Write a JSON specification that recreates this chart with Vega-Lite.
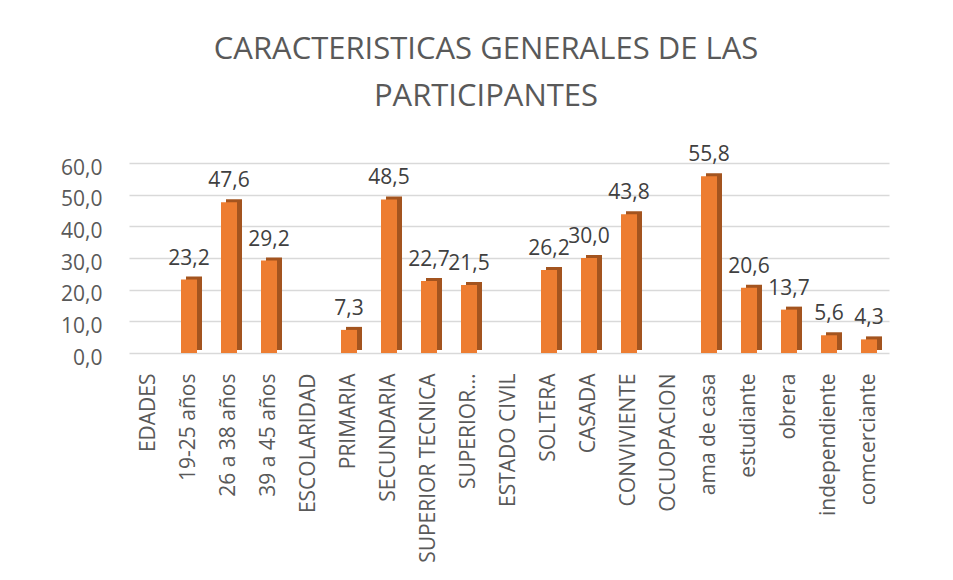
{
  "$schema": "https://vega.github.io/schema/vega-lite/v6.json",
  "width": 760,
  "height": 190,
  "autosize": {"type": "none"},
  "padding": {"left": 129, "top": 163, "right": 64, "bottom": 227},
  "background": "white",
  "config": {
    "view": {"stroke": null},
    "font": "Open Sans",
    "locale": {"number": {"decimal": ",", "thousands": ".", "grouping": [3], "currency": ["", ""]}}
  },
  "title": {
    "text": ["CARACTERISTICAS GENERALES DE LAS", "PARTICIPANTES"],
    "fontSize": 31,
    "fontWeight": "normal",
    "color": "#595959",
    "lineHeight": 47,
    "anchor": "middle",
    "dx": -23,
    "offset": 31
  },
  "data": {
    "values": [
      {"cat": "EDADES", "pct": null},
      {"cat": "19-25 años", "pct": 23.2},
      {"cat": "26 a 38 años", "pct": 47.6},
      {"cat": "39 a 45 años", "pct": 29.2},
      {"cat": "ESCOLARIDAD", "pct": null},
      {"cat": "PRIMARIA", "pct": 7.3},
      {"cat": "SECUNDARIA", "pct": 48.5},
      {"cat": "SUPERIOR TECNICA", "pct": 22.7},
      {"cat": "SUPERIOR…", "pct": 21.5},
      {"cat": "ESTADO CIVIL", "pct": null},
      {"cat": "SOLTERA", "pct": 26.2},
      {"cat": "CASADA", "pct": 30.0},
      {"cat": "CONVIVIENTE", "pct": 43.8},
      {"cat": "OCUOPACION", "pct": null},
      {"cat": "ama de casa", "pct": 55.8},
      {"cat": "estudiante", "pct": 20.6},
      {"cat": "obrera", "pct": 13.7},
      {"cat": "independiente", "pct": 5.6},
      {"cat": "comcerciante", "pct": 4.3}
    ]
  },
  "encoding": {
    "x": {
      "field": "cat",
      "type": "nominal",
      "sort": null,
      "scale": {
        "domain": ["EDADES", "19-25 años", "26 a 38 años", "39 a 45 años", "ESCOLARIDAD", "PRIMARIA", "SECUNDARIA", "SUPERIOR TECNICA", "SUPERIOR…", "ESTADO CIVIL", "SOLTERA", "CASADA", "CONVIVIENTE", "OCUOPACION", "ama de casa", "estudiante", "obrera", "independiente", "comcerciante"],
        "paddingInner": 0,
        "paddingOuter": 0
      },
      "axis": {
        "title": null,
        "labelAngle": -90,
        "labelAlign": "right",
        "labelBaseline": "middle",
        "labelFontSize": 21,
        "labelColor": "#595959",
        "labelPadding": 20,
        "ticks": false,
        "domain": false,
        "labelLimit": 250
      }
    },
    "y": {
      "field": "pct",
      "type": "quantitative",
      "scale": {"domain": [0, 60], "nice": false},
      "axis": {
        "title": null,
        "values": [0, 10, 20, 30, 40, 50, 60],
        "format": ".1f",
        "labelFontSize": 21,
        "labelColor": "#595959",
        "labelPadding": 27,
        "labelOffset": 5,
        "ticks": false,
        "domain": false,
        "gridColor": "#D9D9D9",
        "gridWidth": 1.5
      }
    }
  },
  "layer": [
    {
      "mark": {"type": "bar", "width": 16, "color": "#A3541F", "xOffset": 5, "yOffset": -3, "y2Offset": -3}
    },
    {
      "mark": {"type": "bar", "width": 16, "color": "#ED7D31"}
    },
    {
      "mark": {"type": "text", "dy": -15, "baseline": "alphabetic", "fontSize": 21, "color": "#404040"},
      "encoding": {"text": {"field": "pct", "type": "quantitative", "format": ".1f"}}
    }
  ]
}
